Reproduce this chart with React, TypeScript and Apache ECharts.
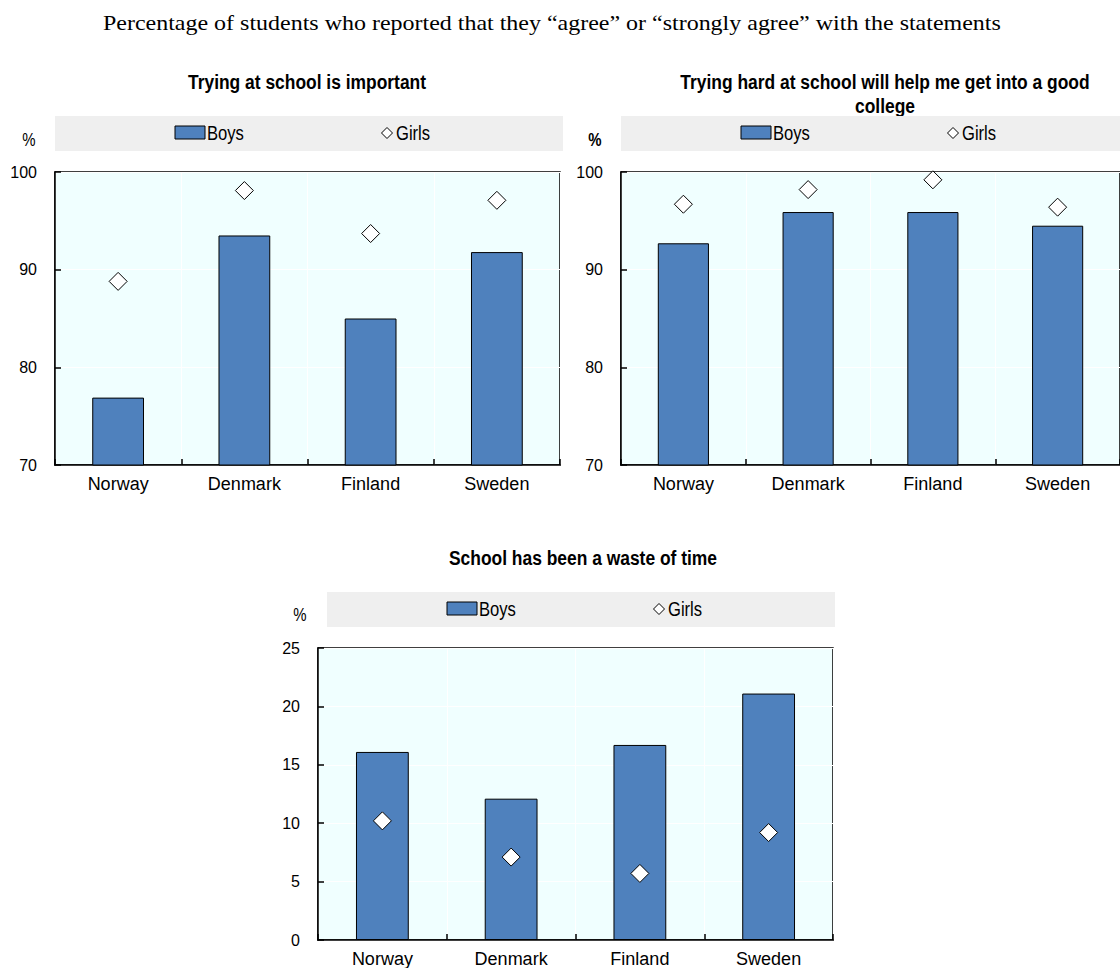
import React, { useEffect, useRef } from "react";
import * as echarts from "echarts";

const countries = ["Norway", "Denmark", "Finland", "Sweden"];
const importantBoys = [76.9, 93.5, 85.0, 91.8];
const importantGirls = [88.8, 98.1, 93.7, 97.1];
const collegeBoys = [92.7, 95.9, 95.9, 94.5];
const collegeGirls = [96.7, 98.2, 99.2, 96.4];
const wasteBoys = [16.1, 12.1, 16.7, 21.1];
const wasteGirls = [10.2, 7.1, 5.7, 9.2];
const topRange = [70, 100, 10];
const bottomRange = [0, 25, 5];
const headerText =
  "Percentage of students who reported that they \u201cagree\u201d or \u201cstrongly agree\u201d with the statements";
const titles = [
  ["Trying at school is important"],
  ["Trying hard at school will help me get into a good", "college"],
  ["School has been a waste of time"],
];

const SANS = "'Liberation Sans', Arial, sans-serif";
const BLUE = "#4f81bd";
const NARROW_SCALE = 0.83;

const panels = [
  { grid: { left: 55, top: 172, width: 505, height: 293 }, boys: importantBoys, girls: importantGirls, range: topRange,
    title: { x: 307, y: 82 }, band: { x: 55, y: 116 }, pct: { x: 29, y: 140, bold: false } },
  { grid: { left: 621, top: 172, width: 505, height: 293 }, boys: collegeBoys, girls: collegeGirls, range: topRange,
    title: { x: 885, y: 82 }, band: { x: 621, y: 116 }, pct: { x: 595, y: 140, bold: true } },
  { grid: { left: 318, top: 648, width: 515, height: 294 }, boys: wasteBoys, girls: wasteGirls, range: bottomRange,
    title: { x: 583, y: 558 }, band: { x: 327, y: 592 }, pct: { x: 300, y: 615, bold: false } },
];

export default function App() {
  const ref = useRef<HTMLDivElement>(null);
  useEffect(() => {
    document.body.style.margin = "0";
    if (!ref.current) return;
    const chart = echarts.init(ref.current, null, { renderer: "svg" });

    const graphics: any[] = [
      {
        type: "text",
        x: 103,
        y: 22,
        scaleX: 1.09,
        style: { text: headerText, font: "22px 'Liberation Serif', 'Times New Roman', serif", fill: "#000", verticalAlign: "middle" },
      },
    ];
    panels.forEach((p, i) => {
      titles[i].forEach((line, k) => {
        graphics.push({
          type: "text",
          x: p.title.x,
          y: p.title.y + k * 24,
          scaleX: NARROW_SCALE,
          style: {
            text: line,
            font: `bold 21px ${SANS}`,
            fill: "#000",
            align: "center",
            verticalAlign: "middle",
          },
        });
      });
    });
    panels.forEach((p) => {
      const bx = p.band.x;
      const by = p.band.y;
      graphics.push(
        { type: "rect", shape: { x: bx, y: by, width: 508, height: 35 }, style: { fill: "#efefef" } },
        { type: "rect", shape: { x: bx + 120, y: by + 10, width: 30, height: 13 }, style: { fill: BLUE, stroke: "#000", lineWidth: 1 } },
        { type: "text", x: bx + 152, y: by + 17, scaleX: NARROW_SCALE, style: { text: "Boys", font: `20px ${SANS}`, fill: "#000", verticalAlign: "middle" } },
        {
          type: "polygon",
          shape: { points: [[bx + 332, by + 11.5], [bx + 337.5, by + 17], [bx + 332, by + 22.5], [bx + 326.5, by + 17]] },
          style: { fill: "#fff", stroke: "#000", lineWidth: 1 },
        },
        { type: "text", x: bx + 341, y: by + 17, scaleX: NARROW_SCALE, style: { text: "Girls", font: `20px ${SANS}`, fill: "#000", verticalAlign: "middle" } },
        {
          type: "text",
          x: p.pct.x,
          y: p.pct.y,
          scaleX: NARROW_SCALE,
          style: { text: "%", font: `${p.pct.bold ? "bold " : ""}18px ${SANS}`, fill: "#000", align: "center", verticalAlign: "middle" },
        }
      );
    });

    const option: any = {
      animation: false,
      backgroundColor: "#fff",
      grid: panels.map((p) => ({
        ...p.grid,
        show: true,
        backgroundColor: "#f0ffff",
        borderColor: "#000",
        borderWidth: 1.5,
        containLabel: false,
      })),
      xAxis: panels.map((p, i) => ({
        gridIndex: i,
        type: "category",
        data: countries,
        axisLine: { show: true, lineStyle: { color: "#000", width: 1.5 } },
        axisTick: { show: true, inside: true, length: 6, lineStyle: { color: "#000", width: 1.5 } },
        axisLabel: { fontFamily: SANS, fontSize: 18, color: "#000", margin: 10 },
        splitLine: { show: true, lineStyle: { color: "#ffffff", width: 1 } },
      })),
      yAxis: panels.map((p, i) => ({
        gridIndex: i,
        type: "value",
        min: p.range[0],
        max: p.range[1],
        interval: p.range[2],
        axisLine: { show: true, lineStyle: { color: "#000", width: 1.5 } },
        axisTick: { show: true, inside: true, length: 6, lineStyle: { color: "#000", width: 1.5 } },
        axisLabel: { fontFamily: SANS, fontSize: 16, color: "#000", margin: 18 },
        splitLine: { show: true, lineStyle: { color: "#ffffff", width: 1 } },
      })),
      series: panels.flatMap((p, i) => [
        {
          type: "bar",
          name: "Boys",
          xAxisIndex: i,
          yAxisIndex: i,
          data: p.boys,
          barWidth: "41%",
          itemStyle: { color: BLUE, borderColor: "#000", borderWidth: 1 },
        },
        {
          type: "scatter",
          name: "Girls",
          xAxisIndex: i,
          yAxisIndex: i,
          data: p.girls,
          symbol: "diamond",
          symbolSize: 18,
          itemStyle: { color: "#fff", borderColor: "#000", borderWidth: 1, opacity: 1 },
          z: 5,
        },
      ]),
      graphic: graphics,
    };
    chart.setOption(option);
    return () => chart.dispose();
  }, []);
  return <div ref={ref} style={{ width: 1120, height: 968, overflow: "hidden" }} />;
}
